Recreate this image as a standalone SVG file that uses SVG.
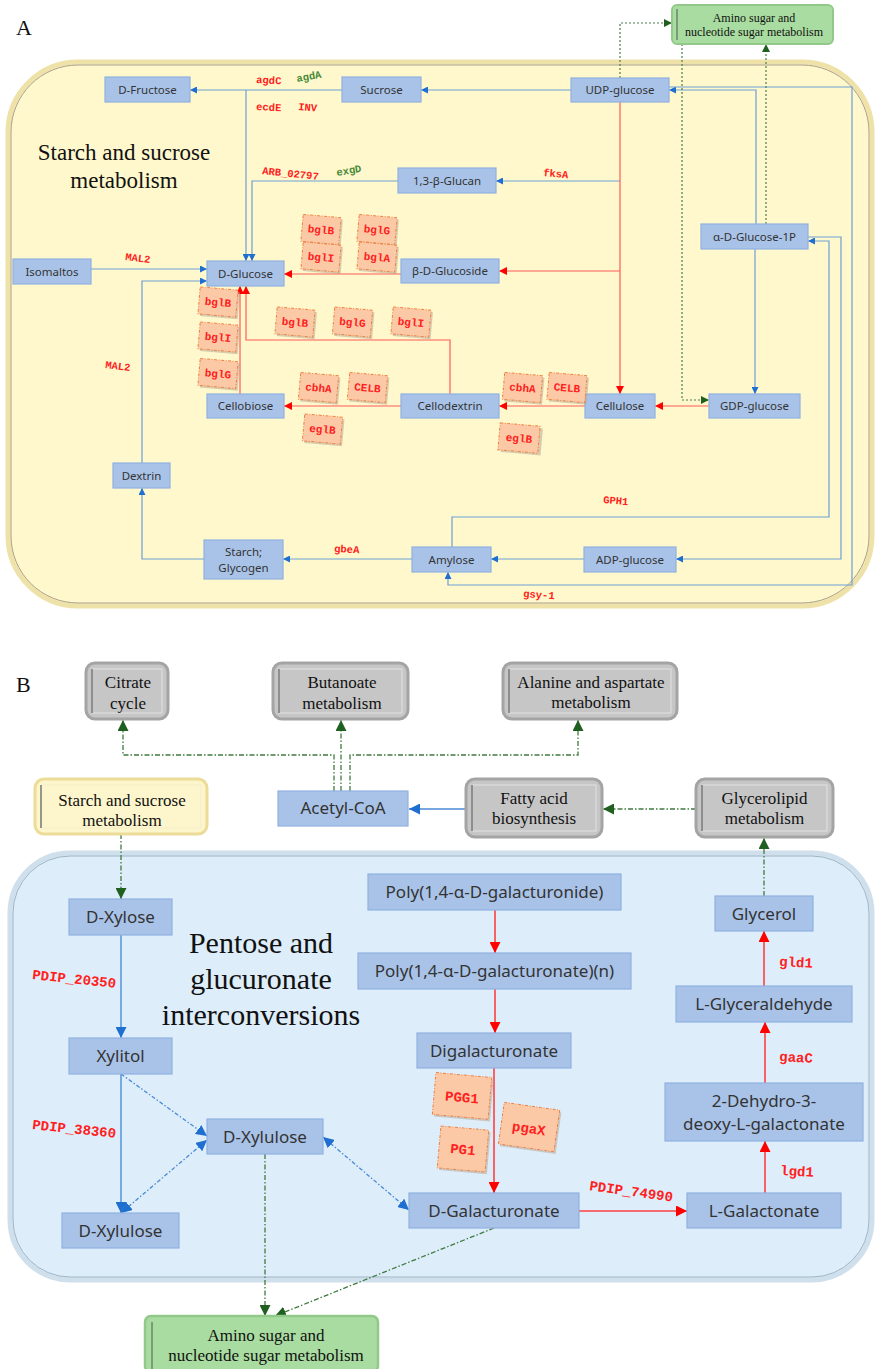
<svg xmlns="http://www.w3.org/2000/svg" width="877" height="1369" viewBox="0 0 877 1369">
<style>
.lbl{font-family:"Liberation Serif","Times New Roman",serif;fill:#111}
.nd rect{fill:#a9c3e8;stroke:#90b1e2;stroke-width:1.2}
.na text{font-family:"Noto Sans","DejaVu Sans",sans-serif;font-size:11.5px;fill:#333;text-anchor:middle}
.nb text{font-family:"Noto Sans","DejaVu Sans",sans-serif;font-size:17px;fill:#333;text-anchor:middle}
.enz{font-family:"Liberation Mono","DejaVu Sans Mono",monospace;font-weight:bold;fill:#ff2020}
.enzg{font-family:"Liberation Mono","DejaVu Sans Mono",monospace;font-weight:bold;fill:#4a8a3a}
.eb rect.s{fill:#b8a898;opacity:0.55}
.eb rect.f{fill:#fcc9a6;stroke:#f08040;stroke-width:1;stroke-dasharray:3 1.5 1 1.5}
.eb text{font-family:"Liberation Mono","DejaVu Sans Mono",monospace;font-weight:bold;fill:#ff2020;text-anchor:middle}
.gb text,.yb text,.grb text{font-family:"Liberation Serif","Times New Roman",serif;fill:#111;text-anchor:middle}
.blA{fill:none;stroke:#6d9fd6;stroke-width:1.2}
.rdA{fill:none;stroke:#ff5a5a;stroke-width:1.2}
.gnA{fill:none;stroke:#4d7d4d;stroke-width:1.2;stroke-dasharray:2 2}
.blB{fill:none;stroke:#4a8ad6;stroke-width:1.4}
.rdB{fill:none;stroke:#ff4040;stroke-width:1.6}
.gnB{fill:none;stroke:#3f7a3f;stroke-width:1.3;stroke-dasharray:5 2 1.5 2}
.bdB{fill:none;stroke:#4a8ad6;stroke-width:1.3;stroke-dasharray:4 2 1.5 2}
</style>
<defs>
<marker id="abS" viewBox="0 0 10 10" refX="10" refY="5" markerWidth="7" markerHeight="7" markerUnits="userSpaceOnUse" orient="auto-start-reverse"><path d="M0,0L10,5L0,10z" fill="#1f6fd0"/></marker>
<marker id="arS" viewBox="0 0 10 10" refX="10" refY="5" markerWidth="8" markerHeight="8" markerUnits="userSpaceOnUse" orient="auto-start-reverse"><path d="M0,0L10,5L0,10z" fill="#ff0000"/></marker>
<marker id="agS" viewBox="0 0 10 10" refX="10" refY="5" markerWidth="8" markerHeight="8" markerUnits="userSpaceOnUse" orient="auto-start-reverse"><path d="M0,0L10,5L0,10z" fill="#1f5f1f"/></marker>
<marker id="abL" viewBox="0 0 10 10" refX="10" refY="5" markerWidth="11" markerHeight="11" markerUnits="userSpaceOnUse" orient="auto-start-reverse"><path d="M0,0L10,5L0,10z" fill="#1f6fd0"/></marker>
<marker id="arL" viewBox="0 0 10 10" refX="10" refY="5" markerWidth="11" markerHeight="11" markerUnits="userSpaceOnUse" orient="auto-start-reverse"><path d="M0,0L10,5L0,10z" fill="#ff0000"/></marker>
<marker id="agL" viewBox="0 0 10 10" refX="10" refY="5" markerWidth="11" markerHeight="11" markerUnits="userSpaceOnUse" orient="auto-start-reverse"><path d="M0,0L10,5L0,10z" fill="#1f5f1f"/></marker>
</defs>

<!-- Panel A background -->
<g id="panelA-bg">
<rect x="8" y="62" width="864" height="544" rx="70" fill="#fff8cc" stroke="#efe2a8" stroke-width="5"/>
<rect x="11" y="65" width="858" height="538" rx="67" fill="none" stroke="#a89f8c" stroke-width="1"/>
</g>
<text class="lbl" x="16" y="35" font-size="22">A</text>
<text class="lbl" font-size="23" text-anchor="middle"><tspan x="124" y="160">Starch and sucrose</tspan><tspan x="124" y="188">metabolism</tspan></text>

<!-- connectors A -->
<g id="connectors-A">
<path class="blA" d="M571,90H421" marker-end="url(#abS)"/>
<path class="blA" d="M342,90H190" marker-end="url(#abS)"/>
<path class="blA" d="M246,90V261" marker-end="url(#abS)"/>
<path class="blA" d="M398,181H252V261" marker-end="url(#abS)"/>
<path class="blA" d="M620,181H496" marker-end="url(#abS)"/>
<path class="blA" d="M91,269H207" marker-end="url(#abS)"/>
<path class="blA" d="M142,463V281H207" marker-end="url(#abS)"/>
<path class="blA" d="M755,249V394" marker-end="url(#abS)"/>
<path class="blA" d="M756,224V90H669" marker-end="url(#abS)"/>
<path class="blA" d="M669,87H852V585H448V572" marker-end="url(#abS)"/>
<path class="blA" d="M808,237H841V559H676" marker-end="url(#abS)"/>
<path class="blA" d="M452,547V517H829V241H808" marker-end="url(#abS)"/>
<path class="blA" d="M584,559H491" marker-end="url(#abS)"/>
<path class="blA" d="M412,559H283" marker-end="url(#abS)"/>
<path class="blA" d="M204,559H142V488" marker-end="url(#abS)"/>
<path class="rdA" d="M620,102V394" marker-end="url(#arS)"/>
<path class="rdA" d="M620,271H499" marker-end="url(#arS)"/>
<path class="rdA" d="M401,274H284" marker-end="url(#arS)"/>
<path class="rdA" d="M240,394V286" marker-end="url(#arS)"/>
<path class="rdA" d="M450,394V340H246V286" marker-end="url(#arS)"/>
<path class="rdA" d="M401,406H284" marker-end="url(#arS)"/>
<path class="rdA" d="M585,406H499" marker-end="url(#arS)"/>
<path class="rdA" d="M709,406H655" marker-end="url(#arS)"/>
<path class="gnA" d="M620,78V23H672" marker-end="url(#agS)"/>
<path class="gnA" d="M682,44V400H709" marker-end="url(#agS)"/>
<path class="gnA" d="M766,224V44" marker-end="url(#agS)"/>
</g>

<!-- nodes A -->
<g id="n-fructose" class="nd na"><rect x="105" y="77" width="85" height="25"/><text x="147.5" y="93.5">D-Fructose</text></g>
<g id="n-sucrose" class="nd na"><rect x="342" y="77" width="79" height="25"/><text x="381.5" y="93.5">Sucrose</text></g>
<g id="n-udpglucose" class="nd na"><rect x="571" y="78" width="98" height="24"/><text x="620" y="94">UDP-glucose</text></g>
<g id="n-amino-top" class="gb"><rect x="672" y="5" width="161" height="39" rx="5" fill="#a9dca0" stroke="#92c98a" stroke-width="2"/><line x1="677" y1="9" x2="677" y2="40" stroke="#6a8a6a" stroke-width="1.5"/><text font-size="12"><tspan x="754" y="22">Amino sugar and</tspan><tspan x="754" y="36">nucleotide sugar metabolism</tspan></text></g>
<g id="n-glucan" class="nd na"><rect x="398" y="168" width="98" height="25"/><text x="447" y="184.5">1,3-β-Glucan</text></g>
<g id="n-isomaltos" class="nd na"><rect x="13" y="259" width="78" height="25"/><text x="52" y="275.5">Isomaltos</text></g>
<g id="n-dglucose" class="nd na"><rect x="207" y="261" width="77" height="25"/><text x="245.5" y="277.5">D-Glucose</text></g>
<g id="n-bglucoside" class="nd na"><rect x="401" y="259" width="98" height="24"/><text x="450" y="275">β-D-Glucoside</text></g>
<g id="n-aglucose1p" class="nd na"><rect x="701" y="224" width="107" height="25"/><text x="754.5" y="240.5">α-D-Glucose-1P</text></g>
<g id="n-cellobiose" class="nd na"><rect x="207" y="394" width="77" height="24"/><text x="245.5" y="410">Cellobiose</text></g>
<g id="n-cellodextrin" class="nd na"><rect x="401" y="394" width="98" height="24"/><text x="450" y="410">Cellodextrin</text></g>
<g id="n-cellulose" class="nd na"><rect x="585" y="394" width="70" height="24"/><text x="620" y="410">Cellulose</text></g>
<g id="n-gdpglucose" class="nd na"><rect x="709" y="394" width="91" height="24"/><text x="754.5" y="410">GDP-glucose</text></g>
<g id="n-dextrin" class="nd na"><rect x="113" y="463" width="57" height="25"/><text x="141.5" y="479.5">Dextrin</text></g>
<g id="n-starch" class="nd na"><rect x="204" y="540" width="79" height="39"/><text x="243.5" y="556">Starch;</text><text x="243.5" y="572">Glycogen</text></g>
<g id="n-amylose" class="nd na"><rect x="412" y="547" width="79" height="25"/><text x="451.5" y="563.5">Amylose</text></g>
<g id="n-adpglucose" class="nd na"><rect x="584" y="547" width="92" height="25"/><text x="630" y="563.5">ADP-glucose</text></g>

<!-- enzyme labels A -->
<g id="enz-labels-A" font-size="10.5">
<text class="enz" transform="translate(256,83) rotate(3)">agdC</text>
<text class="enzg" transform="translate(297,82) rotate(-10)">agdA</text>
<text class="enz" transform="translate(256,110) rotate(3)">ecdE</text>
<text class="enz" transform="translate(298,110) rotate(5)">INV</text>
<text class="enz" transform="translate(262,174) rotate(6)">ARB_02797</text>
<text class="enzg" transform="translate(337,176) rotate(-10)">exgD</text>
<text class="enz" transform="translate(543,176) rotate(5)">fksA</text>
<text class="enz" transform="translate(125,260) rotate(7)">MAL2</text>
<text class="enz" transform="translate(105,368) rotate(7)">MAL2</text>
<text class="enz" transform="translate(603,503) rotate(5)">GPH1</text>
<text class="enz" transform="translate(334,552) rotate(3)">gbeA</text>
<text class="enz" transform="translate(523,597) rotate(4)">gsy-1</text>
</g>

<!-- enzyme boxes A -->
<g id="eb-A" class="eb" font-size="11">
<g transform="rotate(5 321 229.5)"><rect class="s" x="304" y="218" width="38" height="27"/><rect class="f" x="302" y="216" width="38" height="27"/><text x="321" y="233.5" font-size="11">bglB</text></g>
<g transform="rotate(5 377 229.5)"><rect class="s" x="360" y="218" width="38" height="27"/><rect class="f" x="358" y="216" width="38" height="27"/><text x="377" y="233.5" font-size="11">bglG</text></g>
<g transform="rotate(5 321 257)"><rect class="s" x="304" y="245.5" width="38" height="27"/><rect class="f" x="302" y="243.5" width="38" height="27"/><text x="321" y="261" font-size="11">bglI</text></g>
<g transform="rotate(5 377 257)"><rect class="s" x="360" y="245.5" width="38" height="27"/><rect class="f" x="358" y="243.5" width="38" height="27"/><text x="377" y="261" font-size="11">bglA</text></g>
<g transform="rotate(5 218 302)"><rect class="s" x="201" y="290.5" width="38" height="27"/><rect class="f" x="199" y="288.5" width="38" height="27"/><text x="218" y="306" font-size="11">bglB</text></g>
<g transform="rotate(5 218 337)"><rect class="s" x="201" y="325.5" width="38" height="27"/><rect class="f" x="199" y="323.5" width="38" height="27"/><text x="218" y="341" font-size="11">bglI</text></g>
<g transform="rotate(5 218 373.5)"><rect class="s" x="201" y="362" width="38" height="27"/><rect class="f" x="199" y="360" width="38" height="27"/><text x="218" y="377.5" font-size="11">bglG</text></g>
<g transform="rotate(5 295 322)"><rect class="s" x="278" y="310.5" width="38" height="27"/><rect class="f" x="276" y="308.5" width="38" height="27"/><text x="295" y="326" font-size="11">bglB</text></g>
<g transform="rotate(5 352.5 322)"><rect class="s" x="335.5" y="310.5" width="38" height="27"/><rect class="f" x="333.5" y="308.5" width="38" height="27"/><text x="352.5" y="326" font-size="11">bglG</text></g>
<g transform="rotate(5 411 322)"><rect class="s" x="394" y="310.5" width="38" height="27"/><rect class="f" x="392" y="308.5" width="38" height="27"/><text x="411" y="326" font-size="11">bglI</text></g>
<g transform="rotate(5 318.5 387.5)"><rect class="s" x="301.5" y="376" width="38" height="27"/><rect class="f" x="299.5" y="374" width="38" height="27"/><text x="318.5" y="391.5" font-size="11">cbhA</text></g>
<g transform="rotate(5 367.5 387.5)"><rect class="s" x="350.5" y="376" width="38" height="27"/><rect class="f" x="348.5" y="374" width="38" height="27"/><text x="367.5" y="391.5" font-size="11">CELB</text></g>
<g transform="rotate(5 322.5 429)"><rect class="s" x="305.5" y="417.5" width="38" height="27"/><rect class="f" x="303.5" y="415.5" width="38" height="27"/><text x="322.5" y="433" font-size="11">eglB</text></g>
<g transform="rotate(5 522.5 387.5)"><rect class="s" x="505.5" y="376" width="38" height="27"/><rect class="f" x="503.5" y="374" width="38" height="27"/><text x="522.5" y="391.5" font-size="11">cbhA</text></g>
<g transform="rotate(5 567 387.5)"><rect class="s" x="550" y="376" width="38" height="27"/><rect class="f" x="548" y="374" width="38" height="27"/><text x="567" y="391.5" font-size="11">CELB</text></g>
<g transform="rotate(5 519 438)"><rect class="s" x="502" y="426.5" width="40" height="27"/><rect class="f" x="499" y="424.5" width="40" height="27"/><text x="519" y="442" font-size="11">eglB</text></g>
</g>

<!-- Panel B -->
<text class="lbl" x="16" y="692" font-size="22">B</text>
<g id="panelB-bg">
<rect x="10" y="853" width="862" height="427" rx="60" fill="#ddedfa" stroke="#cfe0ec" stroke-width="5"/>
<rect x="13" y="856" width="856" height="421" rx="57" fill="none" stroke="#9fb4c4" stroke-width="1"/>
</g>
<text class="lbl" font-size="30" text-anchor="middle"><tspan x="261" y="953">Pentose and</tspan><tspan x="261" y="989">glucuronate</tspan><tspan x="261" y="1025">interconversions</tspan></text>

<g id="connectors-B">
<path class="gnB" d="M334,791V755H123V720" marker-end="url(#agL)"/>
<path class="gnB" d="M341,791V720" marker-end="url(#agL)"/>
<path class="gnB" d="M350,791V755H578V720" marker-end="url(#agL)"/>
<path class="gnB" d="M696,809H603" marker-end="url(#agL)"/>
<path class="gnB" d="M764,896V838" marker-end="url(#agL)"/>
<path class="gnB" d="M121,834V899" marker-end="url(#agL)"/>
<path class="gnB" d="M265,1154V1316" marker-end="url(#agL)"/>
<path class="gnB" d="M494,1228L275,1316" marker-end="url(#agL)"/>
<path class="blB" d="M466,809H409" marker-end="url(#abL)"/>
<path class="blB" d="M121,935V1038" marker-end="url(#abL)"/>
<path class="blB" d="M121,1074V1213" marker-end="url(#abL)"/>
<path class="bdB" d="M121,1074L207,1136" marker-end="url(#abL)"/>
<path class="bdB" d="M121,1213L207,1140" marker-start="url(#abL)" marker-end="url(#abL)"/>
<path class="bdB" d="M323,1137L409,1210" marker-start="url(#abL)" marker-end="url(#abL)"/>
<path class="rdB" d="M495,910V953" marker-end="url(#arL)"/>
<path class="rdB" d="M495,989V1033" marker-end="url(#arL)"/>
<path class="rdB" d="M494,1068V1193" marker-end="url(#arL)"/>
<path class="rdB" d="M579,1211H687" marker-end="url(#arL)"/>
<path class="rdB" d="M765,1193V1141" marker-end="url(#arL)"/>
<path class="rdB" d="M765,1083V1022" marker-end="url(#arL)"/>
<path class="rdB" d="M764,986V931" marker-end="url(#arL)"/>
</g>

<g id="n-citrate" class="grb"><rect x="86" y="663" width="82" height="56" rx="9" fill="#c6c6c6" stroke="#a4a4a4" stroke-width="3"/><rect x="92" y="669" width="70" height="44" fill="none" stroke="#e2e2e2" stroke-width="1"/><line x1="92" y1="669" x2="92" y2="713" stroke="#777" stroke-width="1.5"/><text font-size="17"><tspan x="128" y="688">Citrate</tspan><tspan x="128" y="709">cycle</tspan></text></g>
<g id="n-butanoate" class="grb"><rect x="273" y="663" width="135" height="56" rx="9" fill="#c6c6c6" stroke="#a4a4a4" stroke-width="3"/><rect x="279" y="669" width="123" height="44" fill="none" stroke="#e2e2e2" stroke-width="1"/><line x1="279" y1="669" x2="279" y2="713" stroke="#777" stroke-width="1.5"/><text font-size="17"><tspan x="342" y="688">Butanoate</tspan><tspan x="342" y="709">metabolism</tspan></text></g>
<g id="n-alanine" class="grb"><rect x="503" y="663" width="174" height="56" rx="9" fill="#c6c6c6" stroke="#a4a4a4" stroke-width="3"/><rect x="509" y="669" width="162" height="44" fill="none" stroke="#e2e2e2" stroke-width="1"/><line x1="509" y1="669" x2="509" y2="713" stroke="#777" stroke-width="1.5"/><text font-size="17"><tspan x="591" y="688">Alanine and aspartate</tspan><tspan x="591" y="708">metabolism</tspan></text></g>
<g id="n-starch-ref" class="yb"><rect x="35" y="779" width="172" height="55" rx="9" fill="#fdf6cc" stroke="#ecdc98" stroke-width="3"/><rect x="41" y="785" width="160" height="43" fill="none" stroke="#f4ecc8" stroke-width="1"/><line x1="41" y1="785" x2="41" y2="828" stroke="#777" stroke-width="1.5"/><text font-size="17"><tspan x="122" y="806">Starch and sucrose</tspan><tspan x="122" y="826">metabolism</tspan></text></g>
<g id="n-acetylcoa" class="nd nb"><rect x="278" y="791" width="130" height="35"/><text x="343" y="814">Acetyl-CoA</text></g>
<g id="n-fattyacid" class="grb"><rect x="466" y="779" width="136" height="58" rx="9" fill="#c6c6c6" stroke="#a4a4a4" stroke-width="3"/><rect x="472" y="785" width="124" height="46" fill="none" stroke="#e2e2e2" stroke-width="1"/><line x1="472" y1="785" x2="472" y2="831" stroke="#777" stroke-width="1.5"/><text font-size="17"><tspan x="534" y="804">Fatty acid</tspan><tspan x="534" y="824">biosynthesis</tspan></text></g>
<g id="n-glycerolipid" class="grb"><rect x="696" y="779" width="137" height="58" rx="9" fill="#c6c6c6" stroke="#a4a4a4" stroke-width="3"/><rect x="702" y="785" width="125" height="46" fill="none" stroke="#e2e2e2" stroke-width="1"/><line x1="702" y1="785" x2="702" y2="831" stroke="#777" stroke-width="1.5"/><text font-size="17"><tspan x="764.5" y="804">Glycerolipid</tspan><tspan x="764.5" y="824">metabolism</tspan></text></g>

<g id="n-dxylose" class="nd nb"><rect x="69" y="899" width="103" height="36"/><text x="120.5" y="923">D-Xylose</text></g>
<g id="n-xylitol" class="nd nb"><rect x="69" y="1038" width="103" height="36"/><text x="120.5" y="1062">Xylitol</text></g>
<g id="n-dxylulose-l" class="nd nb"><rect x="62" y="1213" width="117" height="35"/><text x="120.5" y="1236.5">D-Xylulose</text></g>
<g id="n-dxylulose-m" class="nd nb"><rect x="207" y="1119" width="116" height="35"/><text x="265" y="1142.5">D-Xylulose</text></g>
<g id="n-polygalacturonide" class="nd nb"><rect x="368" y="874" width="253" height="36"/><text x="494.5" y="898">Poly(1,4-α-D-galacturonide)</text></g>
<g id="n-polygalacturonate" class="nd nb"><rect x="358" y="953" width="273" height="36"/><text x="494.5" y="977">Poly(1,4-α-D-galacturonate)(n)</text></g>
<g id="n-digalacturonate" class="nd nb"><rect x="417" y="1033" width="154" height="35"/><text x="494" y="1056.5">Digalacturonate</text></g>
<g id="n-dgalacturonate" class="nd nb"><rect x="409" y="1193" width="170" height="35"/><text x="494" y="1216.5">D-Galacturonate</text></g>
<g id="n-lgalactonate" class="nd nb"><rect x="687" y="1193" width="154" height="35"/><text x="764" y="1216.5">L-Galactonate</text></g>
<g id="n-dehydro" class="nd nb"><rect x="665" y="1083" width="198" height="58"/><text x="764" y="1107">2-Dehydro-3-</text><text x="764" y="1130">deoxy-L-galactonate</text></g>
<g id="n-lglyceraldehyde" class="nd nb"><rect x="676" y="986" width="176" height="36"/><text x="764" y="1010">L-Glyceraldehyde</text></g>
<g id="n-glycerol" class="nd nb"><rect x="715" y="896" width="98" height="35"/><text x="764" y="919.5">Glycerol</text></g>
<g id="n-amino-bottom" class="gb"><rect x="145" y="1316" width="233" height="56" rx="6" fill="#a9dca0" stroke="#92c98a" stroke-width="2.5"/><line x1="152" y1="1322" x2="152" y2="1369" stroke="#6a8a6a" stroke-width="1.5"/><text font-size="17"><tspan x="266" y="1341">Amino sugar and</tspan><tspan x="266" y="1361">nucleotide sugar metabolism</tspan></text></g>

<g id="enz-labels-B" font-size="14">
<text class="enz" transform="translate(32,979) rotate(6)">PDIP_20350</text>
<text class="enz" transform="translate(32,1129) rotate(6)">PDIP_38360</text>
<text class="enz" transform="translate(589,1190) rotate(8)">PDIP_74990</text>
<text class="enz" transform="translate(779,966) rotate(3)">gld1</text>
<text class="enz" transform="translate(779,1061) rotate(3)">gaaC</text>
<text class="enz" transform="translate(780,1175) rotate(3)">lgd1</text>
</g>

<g id="eb-B" class="eb">
<g transform="rotate(5 462.5 1096.5)"><rect class="s" x="436" y="1077" width="56" height="42"/><rect class="f" x="434" y="1075" width="56" height="42"/><text x="462" y="1102" font-size="14">PGG1</text></g>
<g transform="rotate(8 528.5 1127.5)"><rect class="s" x="503" y="1108" width="56" height="42"/><rect class="f" x="501" y="1106" width="56" height="42"/><text x="529" y="1133" font-size="14">pgaX</text></g>
<g transform="rotate(5 462.5 1149)"><rect class="s" x="441" y="1130" width="48" height="42"/><rect class="f" x="439" y="1128" width="48" height="42"/><text x="463" y="1154" font-size="14">PG1</text></g>
</g>
</svg>
